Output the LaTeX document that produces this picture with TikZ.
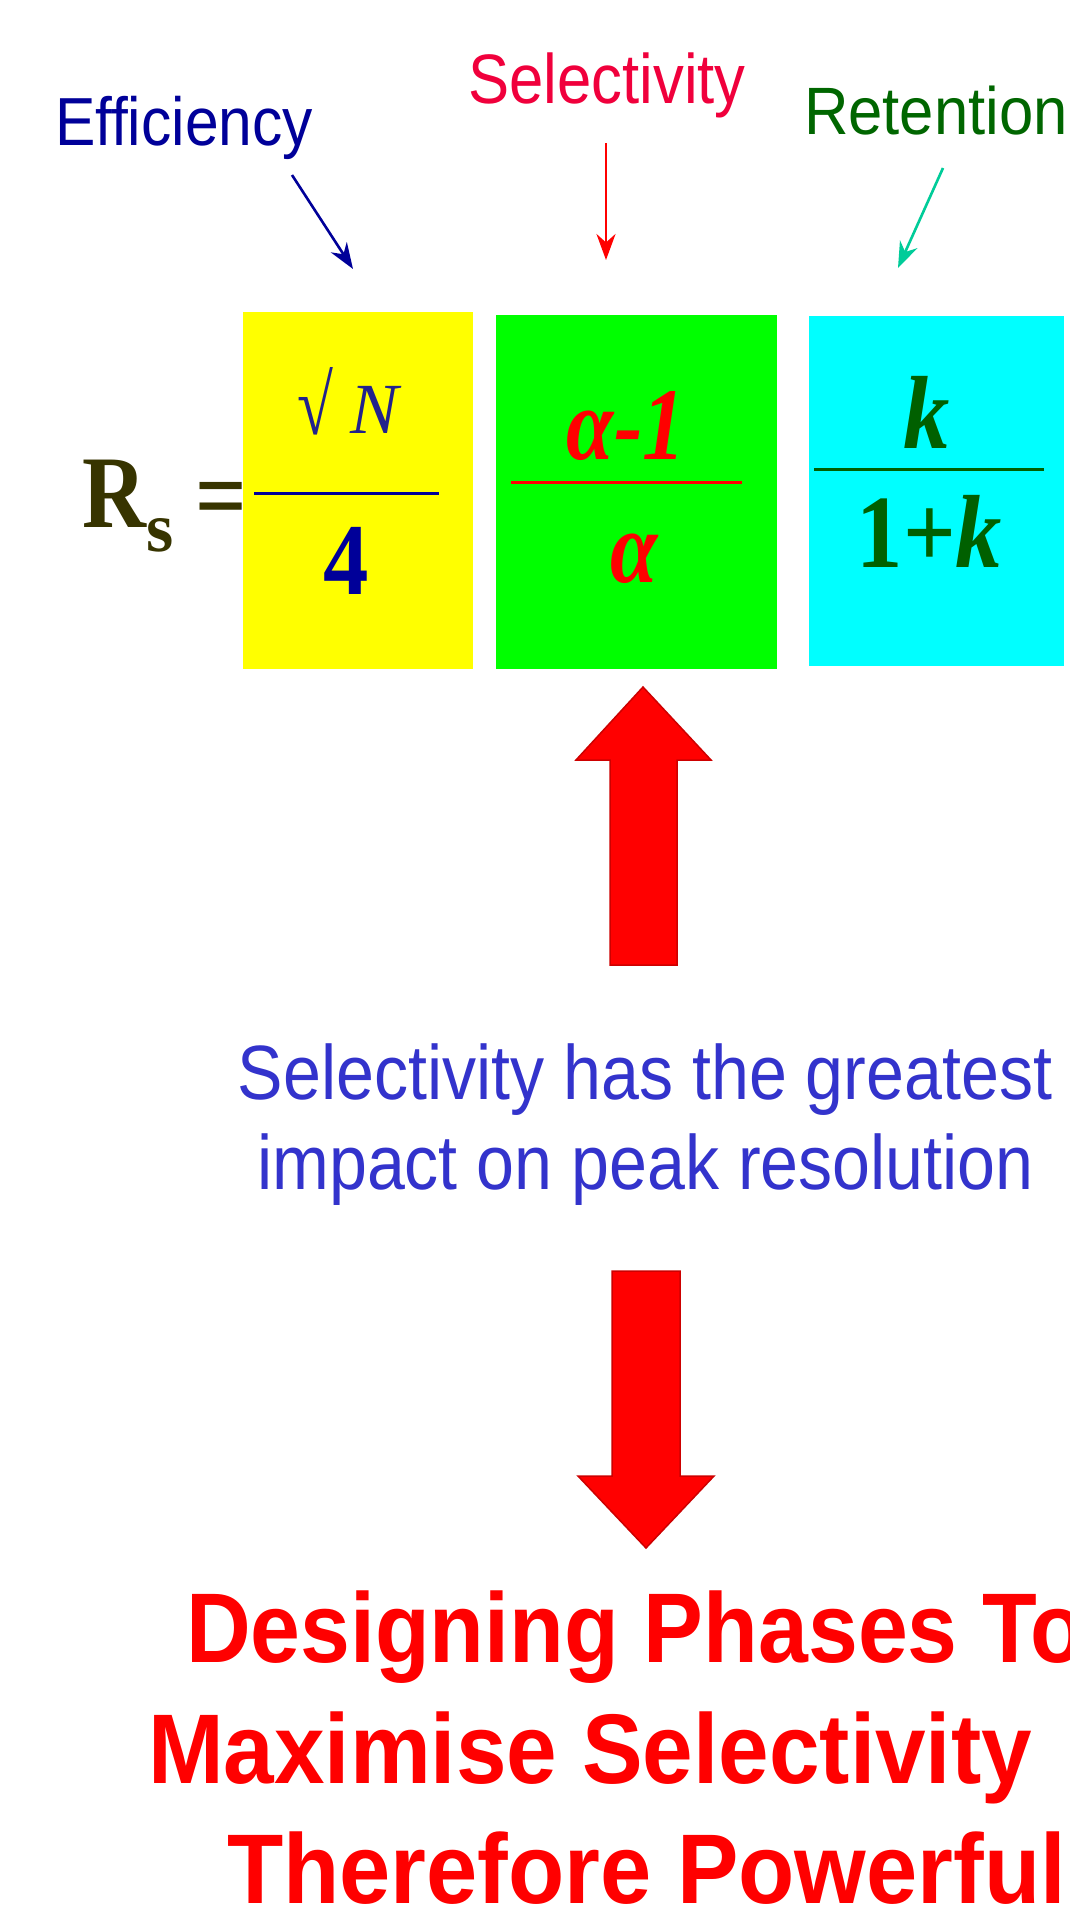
\documentclass[tikz,border=0pt]{standalone}
\usepackage{fontspec}
\usetikzlibrary{arrows.meta}
\newfontfamily\arialf{Liberation Sans}
\newfontfamily\timesf{Liberation Serif}
\definecolor{navyc}{RGB}{0,0,153}
\definecolor{numblue}{RGB}{34,34,140}
\definecolor{selred}{RGB}{240,0,60}
\definecolor{retgreen}{RGB}{0,102,0}
\definecolor{tealc}{RGB}{0,204,153}
\definecolor{olivec}{RGB}{55,52,0}
\definecolor{midblue}{RGB}{51,51,204}
\definecolor{fracgreen}{RGB}{0,96,0}
\definecolor{edgered}{RGB}{205,0,0}
\definecolor{boxyellow}{RGB}{255,255,0}
\definecolor{boxgreen}{RGB}{0,255,0}
\definecolor{boxcyan}{RGB}{0,255,255}
\definecolor{arrred}{RGB}{255,0,0}
\newcommand{\fsz}[1]{\fontsize{#1}{#1}\selectfont}
\newcommand{\sx}[2]{\scalebox{#1}[1]{#2}}
\begin{document}
\begin{tikzpicture}[x=1pt,y=-1pt,
  txt/.style={inner sep=0pt, outer sep=0pt, anchor=base},
  lblarrow/.style={line width=2.6pt, -{Stealth[length=26pt,width=19pt]}},
  box/.style={inner sep=0pt, outer sep=0pt, anchor=north west, draw=none},
  blockarrow/.style={fill=arrred, draw=edgered, line width=1.5pt, line join=miter}]
\useasboundingbox (0,0) rectangle (1070,1909);
\clip (0,0) rectangle (1070,1909);
\fill[white] (0,0) rectangle (1070,1909);

% top labels
\node[txt, text=navyc] (eff) at (184,145) {\arialf\fsz{68}\sx{0.89}{Efficiency}};
\node[txt, text=selred] (sel) at (607,103) {\arialf\fsz{70}\sx{0.88}{Selectivity}};
\node[txt, anchor=base west, text=retgreen] (ret) at (804,134) {\arialf\fsz{67}\sx{0.92}{Retention}};

% label arrows
\coordinate (effA) at (292,175); \coordinate (effB) at (353,269);
\coordinate (selA) at (606,143); \coordinate (selB) at (606,260);
\coordinate (retA) at (943,168); \coordinate (retB) at (898,268);
\draw[lblarrow, navyc] (effA) -- (effB);
\draw[lblarrow, arrred] (selA) -- (selB);
\draw[lblarrow, tealc] (retA) -- (retB);

% coloured boxes
\node[box, fill=boxyellow, minimum width=230pt, minimum height=357pt] (ybox) at (243,312) {};
\node[box, fill=boxgreen, minimum width=281pt, minimum height=354pt] (gbox) at (496,315) {};
\node[box, fill=boxcyan, minimum width=255pt, minimum height=350pt] (cbox) at (809,316) {};

% R_s =
\node[txt, text=olivec] (R) at (114,527) {\timesf\bfseries\fsz{103}\sx{0.86}{R}};
\node[txt, text=olivec] (s) at (160,551) {\timesf\bfseries\fsz{70}s};
\node[txt, text=olivec] (eq) at (221,530) {\timesf\bfseries\fsz{103}\sx{0.88}{=}};

% yellow fraction
\node[txt, text=numblue] (sqrt) at (315,434) {\scalebox{0.85}[1.1]{\timesf\fsz{77}√}};
\node[txt, text=numblue] (N) at (375,433) {\timesf\itshape\fsz{72}N};
\draw[navyc, line width=3pt] (254,493) -- (439,493);
\node[txt, text=navyc] (four) at (346.5,594) {\timesf\bfseries\fsz{102}\sx{0.89}{4}};

% green fraction
\node[txt, text=arrred] (am1) at (626,459) {\timesf\bfseries\itshape\fsz{103}\sx{0.83}{α-1}};
\draw[arrred, line width=3pt] (511,482) -- (742,482);
\node[txt, text=arrred] (alpha) at (634,582) {\timesf\bfseries\itshape\fsz{103}\sx{0.83}{α}};

% cyan fraction
\node[txt, text=fracgreen] (k) at (927,448) {\timesf\bfseries\itshape\fsz{104}\sx{0.89}{k}};
\draw[fracgreen, line width=3pt] (814,469) -- (1044,469);
\node[txt, text=fracgreen] (opk) at (929.5,567) {\timesf\bfseries\fsz{104}\sx{0.89}{1+\textit{k}}};

% block arrows
\filldraw[blockarrow] (643,687) -- (711,760) -- (677,760) -- (677,965) -- (610,965) -- (610,760) -- (576,760) -- cycle;
\filldraw[blockarrow] (612,1271) -- (680,1271) -- (680,1476) -- (714,1476) -- (646,1548) -- (578,1476) -- (612,1476) -- cycle;

% middle text
\node[txt, text=midblue] (m1) at (645,1099) {\arialf\fsz{77}\sx{0.885}{Selectivity has the greatest}};
\node[txt, text=midblue] (m2) at (645.5,1189) {\arialf\fsz{77}\sx{0.885}{impact on peak resolution}};

% bottom text
\node[txt, anchor=base west, text=arrred] (b1) at (186,1662) {\arialf\bfseries\fsz{99}\sx{0.905}{Designing Phases To}};
\node[txt, anchor=base west, text=arrred] (b2) at (148,1783) {\arialf\bfseries\fsz{99}\sx{0.918}{Maximise Selectivity}};
\node[txt, anchor=base west, text=arrred] (b3) at (227,1903) {\arialf\bfseries\fsz{99}\sx{0.93}{Therefore Powerful}};
\end{tikzpicture}
\end{document}
